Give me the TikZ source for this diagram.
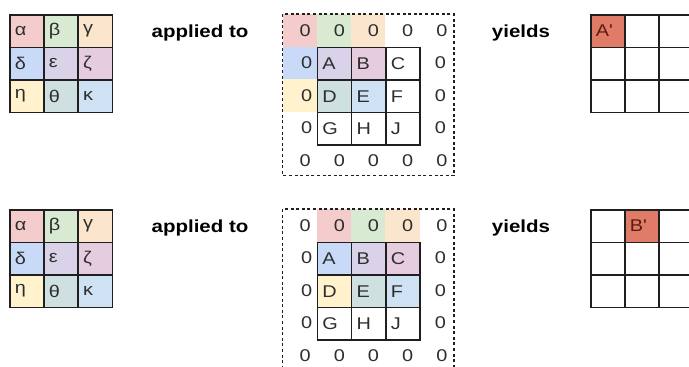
\documentclass[tikz,border=0pt]{standalone}
\usepackage{fontspec}
\setmainfont[FakeStretch=1.17]{Liberation Sans}
\usepackage{tikz}
\usetikzlibrary{positioning, calc}
\definecolor{kpink}{HTML}{F4CCCC}
\definecolor{kgreen}{HTML}{D9EAD3}
\definecolor{korange}{HTML}{FCE5CD}
\definecolor{kblue}{HTML}{C9DAF8}
\definecolor{kpurple}{HTML}{D9D2E9}
\definecolor{kmauve}{HTML}{E6CCDF}
\definecolor{kyellow}{HTML}{FFF2CC}
\definecolor{kteal}{HTML}{CFE0E0}
\definecolor{klblue}{HTML}{CFE2F3}
\definecolor{gridline}{HTML}{1F1F1F}
\definecolor{textgray}{HTML}{2E2E2E}
\definecolor{hitred}{HTML}{E07B67}
\definecolor{hittext}{HTML}{5B1C12}

\begin{document}
\begin{tikzpicture}[x=1pt, y=-1pt,
    cellbox/.style={draw=gridline, line width=1.5pt, minimum height=32.5pt,
      inner xsep=5pt, inner ysep=0pt, text width=24.2pt, align=left,
      anchor=north west, text=textgray, font=\fontsize{17}{18}\selectfont},
    tint/.style={inner sep=0pt, minimum width=34.2pt, minimum height=32.5pt,
      anchor=north west},
    zero/.style={inner sep=0pt, text=textgray, font=\fontsize{17}{18}\selectfont},
    captext/.style={inner sep=0pt, font=\fontsize{17.5}{20}\selectfont\bfseries}]
  \useasboundingbox (0,0) rectangle (689,367);
  \clip (0,0) rectangle (689,367);
  \fill[white] (0,0) rectangle (689,367);

  \foreach \band/\dy/\s in {a/0/0, b/195/1} {
    % kernel
    \foreach \r/\c/\sym/\clr in {0/0/α/kpink, 0/1/β/kgreen, 0/2/γ/korange,
        1/0/δ/kblue, 1/1/ε/kpurple, 1/2/ζ/kmauve,
        2/0/η/kyellow, 2/1/θ/kteal, 2/2/κ/klblue}
      \node[cellbox, fill=\clr] (ker-\band-\r-\c) at ({9+34.2*\c},{14+32.5*\r+\dy}) {\sym};

    % kernel laid over the padded input
    \foreach \r/\c/\clr in {0/0/kpink, 0/1/kgreen, 0/2/korange,
        1/0/kblue, 1/1/kpurple, 1/2/kmauve,
        2/0/kyellow, 2/1/kteal, 2/2/klblue}
      \node[tint, fill=\clr] (tint-\band-\r-\c) at ({316.7+34.2*(\c-1+\s)},{46.7+32.5*(\r-1)+\dy}) {};

    % input grid
    \foreach \r/\c/\sym in {0/0/A, 0/1/B, 0/2/C, 1/0/D, 1/1/E, 1/2/F, 2/0/G, 2/1/H, 2/2/J}
      \node[cellbox] (in-\band-\r-\c) at ({316.7+34.2*\c},{46.7+32.5*\r+\dy}) {\sym};

    % zero padding
    \foreach \c in {-1,...,3} {
      \node[zero] (zt-\band-\c) at ({316.7+34.2*\c+17.1+5.5},{46.7-16.25+\dy}) {0};
      \node[zero] (zb-\band-\c) at ({316.7+34.2*\c+17.1+5.5},{46.7+32.5*3+16.25+\dy}) {0};
    }
    \foreach \r in {0,1,2} {
      \node[zero] (zl-\band-\r) at ({316.7-17.1+7},{46.7+32.5*\r+16.25+\dy}) {0};
      \node[zero] (zr-\band-\r) at ({316.7+34.2*3+17.1+4},{46.7+32.5*\r+16.25+\dy}) {0};
    }
    \draw[gridline, line width=1.3pt, dash pattern=on 3pt off 2.6pt]
      (282.7,{14+\dy}) rectangle (454,{175.7+\dy});

    % output grid
    \foreach \r in {0,1,2}
      \foreach \c in {0,1,2}
        \node[cellbox] (out-\band-\r-\c) at ({590+34.2*\c},{14+32.5*\r+\dy}) {};

    \node[captext] (applied-\band) at (200,{33+\dy}) {applied to};
    \node[captext] (yields-\band) at (521,{33+\dy}) {yields};
  }

  \node[cellbox, fill=hitred, text=hittext] (hit-a) at (out-a-0-0.north west) {A\textquotesingle};
  \node[cellbox, fill=hitred, text=hittext] (hit-b) at (out-b-0-1.north west) {B\textquotesingle};
\end{tikzpicture}
\end{document}
